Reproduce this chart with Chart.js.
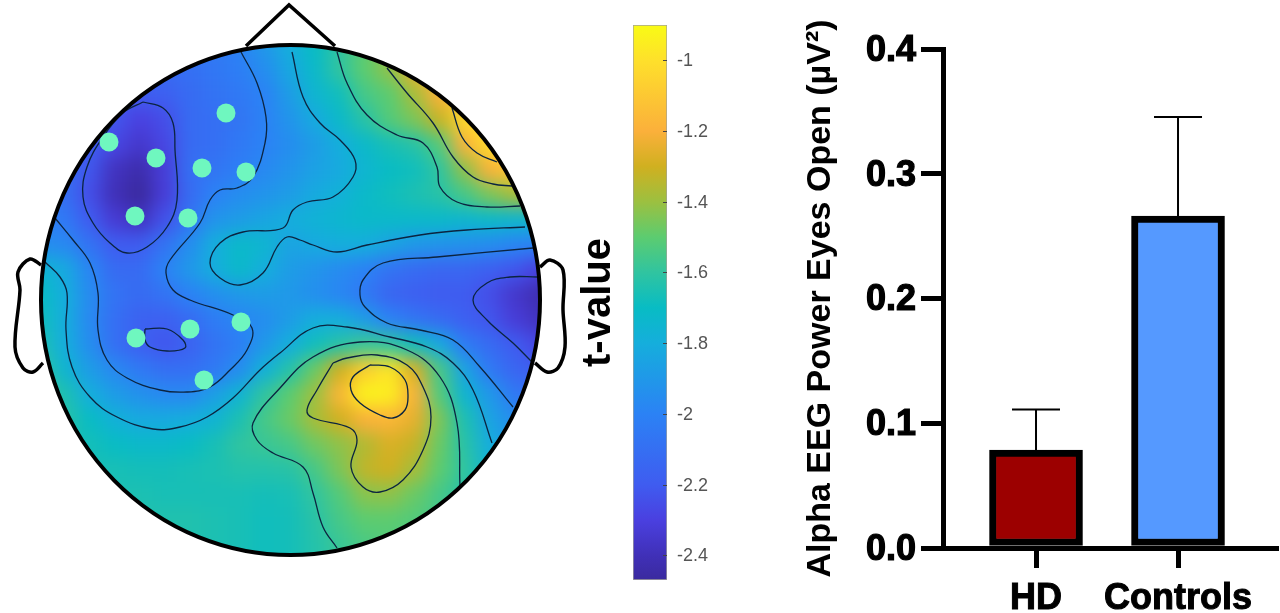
<!DOCTYPE html>
<html>
<head>
<meta charset="utf-8">
<script src="https://cdn.jsdelivr.net/npm/chart.js@4"></script>
<style>
  body { margin: 0; background: #fff; }
  canvas { position: absolute; top: 0; }
</style>
</head>
<body>
<canvas id="headChart" width="600" height="613" style="left:0"></canvas>
<canvas id="barChart" width="480" height="613" style="left:800px"></canvas>
<canvas id="scaleChart" width="150" height="613" style="left:575px"></canvas>
<script>
// t-value, one row per fieldY, one column per fieldX
const fieldX = [15, 40, 65, 90, 115, 140, 165, 190, 215, 240, 265, 290, 315, 340, 365, 390, 415, 440, 465, 490, 515, 540, 565];
const fieldY = [20, 45, 70, 95, 120, 145, 170, 195, 220, 245, 270, 295, 320, 345, 370, 395, 420, 445, 470, 495, 520, 545, 570];
const fieldRows = [
  [-2.1, -2.1, -2.1, -2.1, -2.1, -2.1, -2.1, -2.05, -2.05, -2.0, -1.9, -1.8, -1.7, -1.6, -1.5, -1.4, -1.2, -1.1, -1.0, -1.0, -1.0, -1.0, -1.0],
  [-2.1, -2.1, -2.1, -2.1, -2.1, -2.1, -2.1, -2.05, -2.05, -2.0, -1.9, -1.8, -1.7, -1.6, -1.5, -1.4, -1.2, -1.1, -1.0, -1.0, -1.0, -1.0, -1.0],
  [-2.15, -2.15, -2.15, -2.15, -2.15, -2.15, -2.12, -2.1, -2.06, -2.02, -1.95, -1.83, -1.72, -1.6, -1.5, -1.42, -1.25, -1.1, -1.0, -1.0, -1.0, -1.0, -1.0],
  [-2.15, -2.15, -2.15, -2.2, -2.2, -2.2, -2.18, -2.12, -2.08, -2.05, -2.0, -1.88, -1.75, -1.68, -1.55, -1.5, -1.38, -1.2, -1.05, -0.95, -0.95, -0.95, -0.95],
  [-2.1, -2.1, -2.15, -2.2, -2.22, -2.3, -2.25, -2.12, -2.1, -2.07, -2.0, -1.92, -1.82, -1.72, -1.62, -1.52, -1.45, -1.32, -1.05, -0.95, -0.95, -0.95, -0.95],
  [-2.1, -2.1, -2.15, -2.18, -2.28, -2.35, -2.28, -2.12, -2.1, -2.05, -2.0, -1.95, -1.88, -1.8, -1.72, -1.66, -1.62, -1.52, -1.2, -1.02, -0.95, -0.95, -0.95],
  [-2.05, -2.05, -2.1, -2.22, -2.38, -2.43, -2.32, -2.1, -2.07, -2.02, -1.97, -1.92, -1.86, -1.82, -1.75, -1.7, -1.68, -1.6, -1.42, -1.2, -1.1, -1.05, -1.05],
  [-2.05, -2.05, -2.1, -2.25, -2.4, -2.47, -2.32, -2.12, -2.0, -1.95, -1.92, -1.88, -1.82, -1.78, -1.72, -1.68, -1.65, -1.62, -1.55, -1.45, -1.38, -1.35, -1.35],
  [-2.0, -2.0, -2.05, -2.2, -2.33, -2.38, -2.24, -2.07, -1.92, -1.88, -1.84, -1.8, -1.77, -1.74, -1.72, -1.72, -1.72, -1.72, -1.74, -1.72, -1.74, -1.75, -1.75],
  [-1.95, -1.95, -1.97, -2.08, -2.2, -2.2, -2.08, -1.95, -1.8, -1.72, -1.75, -1.85, -1.82, -1.8, -1.8, -1.85, -1.9, -1.92, -1.93, -1.95, -1.98, -2.0, -2.0],
  [-1.75, -1.75, -1.82, -1.98, -2.12, -2.12, -2.0, -1.9, -1.8, -1.72, -1.8, -1.88, -1.92, -1.96, -2.0, -2.08, -2.12, -2.15, -2.15, -2.18, -2.22, -2.3, -2.3],
  [-1.7, -1.7, -1.8, -1.96, -2.08, -2.12, -2.08, -2.0, -1.94, -1.9, -1.88, -1.9, -1.94, -1.98, -2.05, -2.15, -2.18, -2.2, -2.2, -2.25, -2.35, -2.42, -2.42],
  [-1.68, -1.68, -1.8, -1.97, -2.1, -2.17, -2.18, -2.12, -2.03, -1.98, -1.95, -1.88, -1.8, -1.8, -1.88, -2.0, -2.07, -2.12, -2.18, -2.22, -2.32, -2.38, -2.38],
  [-1.65, -1.65, -1.8, -1.95, -2.1, -2.18, -2.22, -2.17, -2.08, -2.02, -1.9, -1.8, -1.68, -1.62, -1.58, -1.6, -1.68, -1.82, -2.03, -2.12, -2.2, -2.28, -2.28],
  [-1.6, -1.6, -1.75, -1.88, -1.97, -2.05, -2.1, -2.1, -2.05, -1.95, -1.78, -1.63, -1.48, -1.3, -1.08, -0.98, -1.28, -1.55, -1.85, -2.05, -2.15, -2.2, -2.2],
  [-1.55, -1.55, -1.65, -1.8, -1.88, -1.93, -1.97, -1.97, -1.87, -1.76, -1.6, -1.5, -1.4, -1.18, -0.93, -0.95, -1.2, -1.52, -1.75, -1.9, -2.05, -2.1, -2.1],
  [-1.6, -1.6, -1.62, -1.7, -1.78, -1.82, -1.82, -1.8, -1.76, -1.65, -1.55, -1.48, -1.38, -1.3, -1.2, -1.18, -1.25, -1.45, -1.65, -1.85, -1.95, -2.0, -2.0],
  [-1.65, -1.65, -1.66, -1.67, -1.7, -1.72, -1.72, -1.7, -1.66, -1.6, -1.58, -1.55, -1.47, -1.42, -1.36, -1.28, -1.32, -1.48, -1.62, -1.8, -1.9, -1.95, -1.95],
  [-1.65, -1.65, -1.66, -1.66, -1.66, -1.67, -1.67, -1.66, -1.65, -1.63, -1.63, -1.62, -1.55, -1.45, -1.33, -1.3, -1.38, -1.5, -1.6, -1.75, -1.85, -1.9, -1.9],
  [-1.65, -1.65, -1.65, -1.65, -1.65, -1.65, -1.66, -1.66, -1.66, -1.66, -1.67, -1.66, -1.6, -1.52, -1.43, -1.42, -1.48, -1.55, -1.62, -1.7, -1.8, -1.85, -1.85],
  [-1.64, -1.64, -1.64, -1.64, -1.64, -1.64, -1.64, -1.64, -1.65, -1.66, -1.68, -1.67, -1.62, -1.55, -1.5, -1.5, -1.52, -1.56, -1.62, -1.7, -1.78, -1.82, -1.82],
  [-1.63, -1.63, -1.63, -1.63, -1.63, -1.63, -1.63, -1.64, -1.65, -1.66, -1.68, -1.67, -1.63, -1.58, -1.54, -1.52, -1.54, -1.58, -1.64, -1.7, -1.76, -1.8, -1.8],
  [-1.63, -1.63, -1.63, -1.63, -1.63, -1.63, -1.63, -1.64, -1.65, -1.66, -1.68, -1.67, -1.63, -1.58, -1.54, -1.52, -1.54, -1.58, -1.64, -1.7, -1.76, -1.8, -1.8]
];

const electrodeX = [109, 226, 156, 202, 246, 135, 188, 136, 190, 241, 204];
const electrodeY = [142, 113, 158, 168, 172, 216, 218, 338, 329, 322, 380];

const contourBlobFrontal = [[143,102],[163,108],[173,123],[175,150],[177,200],[167,227],[147,247],[127,253],[110,243],[93,223],[83,197],[87,167],[103,137],[123,113],[143,102]];
const contourLeftBlue = [[241,52],[257,83],[266,117],[265,143],[253,177],[237,188],[220,190],[210,200],[200,223],[170,260],[166,273],[173,290],[190,300],[233,315],[252,328],[247,350],[230,370],[210,387],[187,392],[160,390],[127,378],[107,360],[98,330],[98,293],[90,263],[73,240],[55,218]];
const contourOvalParietal = [[145,329],[167,329],[183,340],[185,348],[167,351],[150,347],[145,340],[145,329]];
const contourLeftTeal = [[45,262],[60,277],[67,293],[66,330],[72,367],[90,397],[117,417],[153,429],[180,427],[207,417],[233,398],[260,370],[280,353],[313,328],[347,327],[390,337],[427,347],[453,363],[473,390],[492,443]];
const contourGreenLobe = [[460,487],[457,423],[440,377],[407,350],[360,342],[313,357],[280,388],[253,423],[257,440],[273,453],[303,467],[313,493],[323,527],[337,548]];
const contourOlive = [[333,363],[317,390],[307,410],[313,418],[350,428],[357,440],[351,467],[363,487],[380,492],[403,480],[423,450],[431,417],[423,387],[407,365],[377,355],[347,358],[333,363]];
const contourCore = [[370,365],[390,367],[405,380],[408,397],[405,410],[393,418],[380,415],[360,403],[351,390],[353,377],[370,365]];
const contourRightBlue = [[533,248],[437,257],[383,263],[363,280],[360,295],[365,307],[387,323],[420,330],[453,340],[480,367],[513,407]];
const contourRightDark = [[537,277],[510,277],[487,283],[473,300],[487,320],[513,343],[532,362]];
const contourMiddle = [[525,227],[467,230],[420,235],[367,245],[337,252],[313,245],[300,240],[287,237],[277,247],[263,273],[240,285],[220,278],[210,263],[220,243],[243,232],[283,228],[293,210],[307,202],[333,197],[353,177],[355,160],[340,140],[320,123],[303,97],[292,52]];
const contourFrontRight = [[337,52],[347,83],[367,115],[397,135],[423,143],[437,167],[440,187],[457,202],[487,207],[520,206]];
const contourOrange = [[387,68],[407,93],[433,123],[453,157],[473,177],[493,184],[512,186]];
const contourYellow = [[452,108],[462,137],[477,153],[497,162]];
const contours = [contourBlobFrontal, contourLeftBlue, contourOvalParietal, contourLeftTeal, contourGreenLobe, contourOlive, contourCore, contourRightBlue, contourRightDark, contourMiddle, contourFrontRight, contourOrange, contourYellow];

const noseOutline = [[246,46],[289,5],[335,46]];
const leftEarOutline = [[41,265],[30,259],[18,272],[20,290],[15,347],[23,368],[33,372],[43,363]];
const rightEarOutline = [[540,267],[550,260],[563,270],[563,310],[565,347],[558,368],[547,372],[535,363]];

const colorStops = [
  [-2.47, '#3a2a9e'], [-2.4, '#4030b8'], [-2.3, '#4a40e0'], [-2.2, '#3f5cf0'], [-2.0, '#2b82f5'],
  [-1.8, '#15aedc'], [-1.7, '#08bcc4'], [-1.6, '#30c4a0'], [-1.5, '#5ccc70'], [-1.4, '#9cc040'],
  [-1.3, '#d0b020'], [-1.2, '#fbb03b'], [-1.0, '#fee02b'], [-0.9, '#f9fb15']
];
const scaleTicks = [-1, -1.2, -1.4, -1.6, -1.8, -2, -2.2, -2.4];

const groups = ['HD', 'Controls'];
const alphaPower = [0.0785, 0.266];
const errorTops = [0.111, 0.3455];
const groupColors = ['#9c0000', '#5599ff'];
const powerTicks = [0, 0.1, 0.2, 0.3, 0.4];

const FONT = '"Liberation Sans", Arial, sans-serif';

function hexRgb(h) {
  return [1, 3, 5].map(i => parseInt(h.slice(i, i + 2), 16));
}

function tColor(v) {
  if (v <= colorStops[0][0]) return colorStops[0][1];
  for (let i = 1; i < colorStops.length; i++) {
    if (v <= colorStops[i][0]) {
      const a = colorStops[i - 1], b = colorStops[i];
      const f = (v - a[0]) / (b[0] - a[0]);
      const ca = hexRgb(a[1]), cb = hexRgb(b[1]);
      const c = ca.map((n, k) => Math.round(n + (cb[k] - n) * f));
      return 'rgb(' + c.join(',') + ')';
    }
  }
  return colorStops[colorStops.length - 1][1];
}

const toPoints = arr => arr.map(p => ({ x: p[0], y: p[1] }));

// ---- scalp map
const fieldPoints = [];
const fieldColors = [];
fieldRows.forEach((row, r) => row.forEach((v, c) => {
  fieldPoints.push({ x: fieldX[c], y: fieldY[r] });
  fieldColors.push(tColor(v));
}));

const headEllipse = (chart) => {
  const { x, y } = chart.scales;
  const cx = x.getPixelForValue(290.5), cy = y.getPixelForValue(300);
  return [cx, cy, Math.abs(x.getPixelForValue(540) - cx), Math.abs(y.getPixelForValue(555) - cy)];
};

// the cells come out square, so soften them and cut them to the head
const scalpPlugin = {
  id: 'scalp',
  afterDatasetDraw(chart, args) {
    if (args.index !== 0) return;
    const ctx = chart.ctx, e = headEllipse(chart);
    const copy = document.createElement('canvas');
    copy.width = chart.canvas.width;
    copy.height = chart.canvas.height;
    copy.getContext('2d').drawImage(chart.canvas, 0, 0);
    ctx.clearRect(0, 0, copy.width, copy.height);
    ctx.save();
    ctx.beginPath();
    ctx.ellipse(e[0], e[1], e[2], e[3], 0, 0, Math.PI * 2);
    ctx.clip();
    ctx.filter = 'blur(9px)';
    ctx.drawImage(copy, 0, 0);
    ctx.restore();
  },
  afterDatasetsDraw(chart) {
    const ctx = chart.ctx, e = headEllipse(chart);
    ctx.save();
    ctx.lineWidth = 4;
    ctx.strokeStyle = '#000';
    ctx.beginPath();
    ctx.ellipse(e[0], e[1], e[2], e[3], 0, 0, Math.PI * 2);
    ctx.stroke();
    ctx.restore();
  }
};

const outline = (pts, tension) => ({
  data: toPoints(pts), showLine: true, pointRadius: 0, borderColor: '#000', borderWidth: 3.5,
  tension: tension, order: 2
});

new Chart(document.getElementById('headChart'), {
  type: 'scatter',
  data: {
    datasets: [
      { data: fieldPoints, pointStyle: 'rect', pointRadius: 18.5, pointBorderWidth: 0, pointBackgroundColor: fieldColors, order: 5 },
      ...contours.map(c => ({
        data: toPoints(c), showLine: true, pointRadius: 0, borderColor: '#0b2440', borderWidth: 1.3, tension: 0.4, order: 4
      })),
      { data: electrodeX.map((x, i) => ({ x: x, y: electrodeY[i] })), pointRadius: 9.5, pointBorderWidth: 0, pointBackgroundColor: '#6ff7bf', order: 3 },
      outline(noseOutline, 0),
      outline(leftEarOutline, 0.35),
      outline(rightEarOutline, 0.35)
    ]
  },
  options: {
    responsive: false,
    animation: false,
    layout: { autoPadding: false },
    plugins: { legend: { display: false }, tooltip: { enabled: false } },
    scales: {
      x: { type: 'linear', display: false, min: 0, max: 600 },
      y: { type: 'linear', display: false, min: 0, max: 613, reverse: true }
    }
  },
  plugins: [scalpPlugin]
});

// ---- colour scale
const scaleTickMarks = {
  id: 'scaleTickMarks',
  afterDatasetsDraw(chart) {
    const { ctx, chartArea, scales } = chart;
    ctx.save();
    ctx.strokeStyle = '#444';
    ctx.lineWidth = 1;
    scaleTicks.forEach(t => {
      const py = Math.round(scales.y.getPixelForValue(t)) + 0.5;
      ctx.beginPath();
      ctx.moveTo(chartArea.right - 4, py);
      ctx.lineTo(chartArea.right, py);
      ctx.stroke();
    });
    ctx.restore();
  }
};

new Chart(document.getElementById('scaleChart'), {
  type: 'bar',
  data: {
    labels: ['t-value'],
    datasets: [{
      data: [[-2.47, -0.9]],
      categoryPercentage: 1,
      barPercentage: 1,
      borderWidth: 1,
      borderColor: '#a3a39a',
      borderSkipped: false,
      backgroundColor(c) {
        const { ctx, chartArea, scales } = c.chart;
        if (!chartArea) return '#888';
        const top = scales.y.getPixelForValue(-0.9), bot = scales.y.getPixelForValue(-2.47);
        const g = ctx.createLinearGradient(0, bot, 0, top);
        colorStops.forEach(s => g.addColorStop(Math.min(1, Math.max(0, (s[0] + 2.47) / 1.57)), s[1]));
        return g;
      }
    }]
  },
  options: {
    responsive: false,
    animation: false,
    layout: { padding: { top: 25, bottom: 33, left: 0, right: 0 } },
    plugins: {
      legend: { display: false },
      tooltip: { enabled: false },
      title: {
        display: true,
        text: 't-value',
        position: 'left',
        color: '#000',
        font: { family: FONT, size: 40, weight: 'bold' },
        padding: { top: 0, bottom: 10 }
      }
    },
    scales: {
      x: { display: false },
      y: {
        position: 'right',
        min: -2.47,
        max: -0.9,
        afterBuildTicks(s) { s.ticks = scaleTicks.map(v => ({ value: v })); },
        afterFit(s) { s.width = 58; },
        grid: { display: false },
        border: { display: false },
        ticks: {
          padding: 2,
          labelOffset: 1,
          color: '#555',
          font: { family: FONT, size: 18 },
          callback: v => String(v)
        }
      }
    }
  },
  plugins: [scaleTickMarks]
});

// ---- bars
const errorBars = {
  id: 'errorBars',
  afterDatasetsDraw(chart) {
    const { ctx, scales } = chart;
    ctx.save();
    ctx.strokeStyle = '#000';
    ctx.lineWidth = 2;
    groups.forEach((g, i) => {
      const px = scales.x.getPixelForValue(i + 1);
      const top = scales.y.getPixelForValue(errorTops[i]);
      const base = scales.y.getPixelForValue(alphaPower[i]);
      ctx.beginPath();
      ctx.moveTo(px, base);
      ctx.lineTo(px, top);
      ctx.moveTo(px - 24, top);
      ctx.lineTo(px + 24, top);
      ctx.stroke();
    });
    ctx.restore();
  }
};

new Chart(document.getElementById('barChart'), {
  type: 'bar',
  data: {
    datasets: [{
      data: alphaPower.map((v, i) => ({ x: i + 1, y: v })),
      backgroundColor: groupColors,
      borderColor: '#000',
      borderWidth: 7,
      borderSkipped: false,
      barThickness: 93
    }]
  },
  options: {
    responsive: false,
    animation: false,
    layout: { padding: { top: 49, bottom: 0, left: 0, right: 4 } },
    plugins: { legend: { display: false }, tooltip: { enabled: false } },
    scales: {
      x: {
        type: 'linear',
        offset: false,
        min: 0.345,
        max: 2.69,
        afterBuildTicks(s) { s.ticks = groups.map((g, i) => ({ value: i + 1 })); },
        afterFit(s) { s.height = 65; },
        border: { color: '#000', width: 5 },
        grid: { offset: false, drawOnChartArea: false, color: '#000', lineWidth: 5, tickLength: 20 },
        ticks: {
          color: '#000',
          padding: 9,
          maxRotation: 0,
          textStrokeColor: '#000',
          textStrokeWidth: 1,
          font: { family: FONT, size: 36, weight: 'bold' },
          callback: v => groups[v - 1]
        }
      },
      y: {
        min: 0,
        max: 0.4,
        afterBuildTicks(s) { s.ticks = powerTicks.map(v => ({ value: v })); },
        afterFit(s) { s.width = 143; },
        border: { color: '#000', width: 5 },
        grid: { drawOnChartArea: false, color: '#000', lineWidth: 5, tickLength: 22 },
        ticks: {
          color: '#000',
          padding: 5,
          labelOffset: 2,
          textStrokeColor: '#000',
          textStrokeWidth: 1.2,
          font: { family: FONT, size: 36, weight: 'bold' },
          callback: v => v.toFixed(1)
        },
        title: {
          display: true,
          text: 'Alpha EEG Power Eyes Open (µV²)',
          color: '#000',
          padding: 0,
          font: { family: FONT, size: 34, weight: 'bold' }
        }
      }
    }
  },
  plugins: [errorBars]
});
</script>
</body>
</html>
